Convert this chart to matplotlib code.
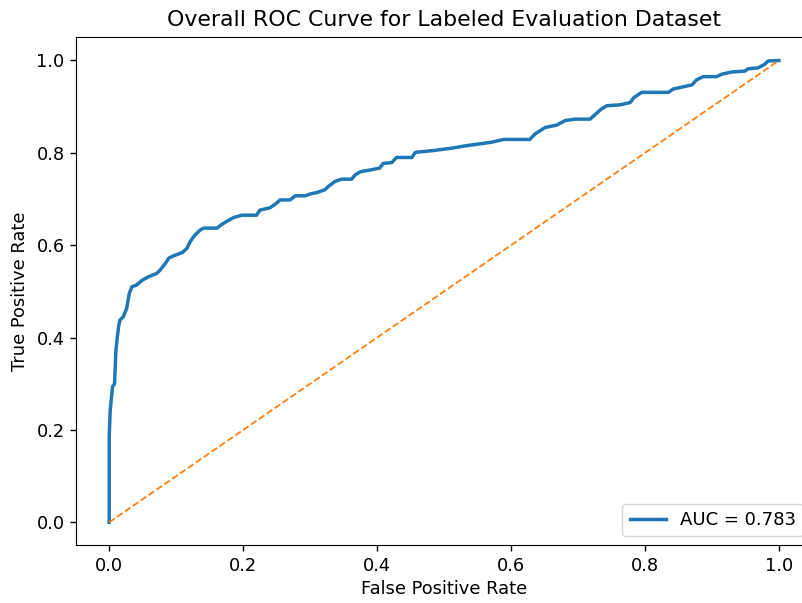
import matplotlib
matplotlib.use('Agg')
import matplotlib.pyplot as plt

# ROC points
fpr = [0.0, 0.0, 0.0015, 0.005, 0.008, 0.010, 0.014, 0.016, 0.021, 0.026, 0.030,
       0.034, 0.041, 0.049, 0.059, 0.071, 0.076, 0.084, 0.089, 0.096, 0.109,
       0.116, 0.121, 0.128, 0.136, 0.141, 0.161, 0.168, 0.176, 0.186, 0.198,
       0.220, 0.225, 0.240, 0.250, 0.255, 0.270, 0.278, 0.293, 0.300, 0.310,
       0.322, 0.327, 0.337, 0.347, 0.362, 0.367, 0.375, 0.390, 0.404, 0.409,
       0.422, 0.429, 0.452, 0.457, 0.484, 0.511, 0.531, 0.551, 0.571, 0.589,
       0.628, 0.636, 0.651, 0.668, 0.681, 0.696, 0.718, 0.728, 0.735, 0.743,
       0.763, 0.778, 0.783, 0.795, 0.835, 0.842, 0.857, 0.870, 0.877, 0.887,
       0.907, 0.914, 0.929, 0.949, 0.954, 0.969, 0.979, 0.984, 1.0]
tpr = [0.0, 0.185, 0.243, 0.294, 0.300, 0.373, 0.424, 0.438, 0.445, 0.463, 0.496,
       0.510, 0.514, 0.524, 0.532, 0.539, 0.546, 0.561, 0.572, 0.577, 0.584,
       0.593, 0.608, 0.622, 0.633, 0.637, 0.637, 0.645, 0.652, 0.660, 0.665,
       0.665, 0.676, 0.681, 0.691, 0.698, 0.698, 0.707, 0.707, 0.711, 0.714,
       0.720, 0.727, 0.738, 0.743, 0.743, 0.752, 0.759, 0.763, 0.767, 0.777,
       0.779, 0.790, 0.790, 0.801, 0.805, 0.810, 0.815, 0.819, 0.823, 0.829,
       0.829, 0.841, 0.855, 0.860, 0.870, 0.873, 0.873, 0.886, 0.895, 0.902,
       0.904, 0.909, 0.919, 0.931, 0.931, 0.938, 0.943, 0.947, 0.958, 0.965,
       0.965, 0.970, 0.975, 0.977, 0.982, 0.984, 0.992, 0.999, 1.0]
auc_value = 0.783
chance = [0, 1]

fig = plt.figure(figsize=(8.03, 6.03), dpi=100)
# the reference is cropped on the right, so the axes run past the figure edge
ax = fig.add_axes([0.0943, 0.0955, 0.9174, 0.8425])

ax.plot(fpr, tpr, color='#1f77b4', lw=2.5, label=f'AUC = {auc_value:.3f}')
ax.plot(chance, chance, color='#ff7f0e', lw=1.3, linestyle='--')

ax.set_title('Overall ROC Curve for Labeled Evaluation Dataset', fontsize=15.8, pad=8)
ax.set_xlabel('False Positive Rate', fontsize=12.9)
ax.set_ylabel('True Positive Rate', fontsize=12.9, labelpad=5)
ax.tick_params(labelsize=12.8, length=4.5, width=1.0)
ax.legend(loc='lower right', fontsize=13)

fig.savefig('out.png', dpi=100)
